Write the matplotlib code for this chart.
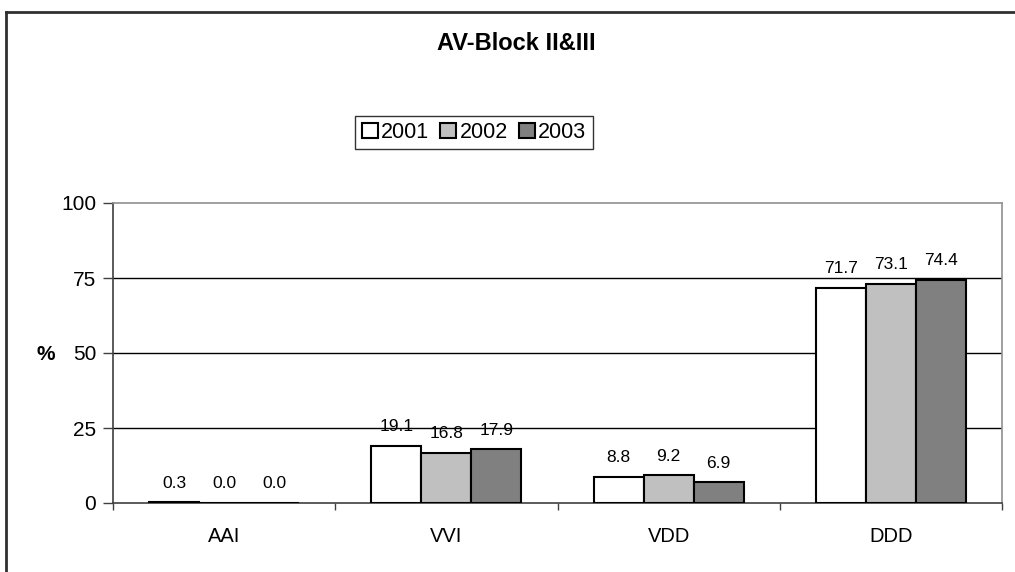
import numpy as np
import matplotlib
matplotlib.use("Agg")
import matplotlib.pyplot as plt
from matplotlib.lines import Line2D

plt.rcParams['font.family'] = ['Liberation Sans', 'DejaVu Sans']

# data
categories = ['AAI', 'VVI', 'VDD', 'DDD']
years = ['2001', '2002', '2003']
v2001 = [0.3, 19.1, 8.8, 71.7]
v2002 = [0.0, 16.8, 9.2, 73.1]
v2003 = [0.0, 17.9, 6.9, 74.4]
yticks = [0, 25, 50, 75, 100]

colors = ['#FFFFFF', '#C0C0C0', '#808080']
series = [v2001, v2002, v2003]

fig = plt.figure(figsize=(10.15, 5.72), dpi=100)
ax = fig.add_axes([113/1015, 1-503/572, 889/1015, 300/572])

x = np.arange(len(categories))
w = 0.225
for i, vals in enumerate(series):
  xs = x + (i-1)*w
  ax.bar(xs, vals, width=w, color=colors[i], edgecolor='black', linewidth=1.5,
         label=years[i], zorder=3)
  for xi, v in zip(xs, vals):
    ax.annotate('%.1f' % v, (xi, v), xytext=(0, 10.5), textcoords='offset points',
                ha='center', va='baseline', fontsize=12.5, zorder=4)

ax.set_xlim(-0.5, len(categories)-0.5)
ax.set_ylim(0, 100)
ax.set_yticks(yticks)
ax.set_yticklabels([str(t) for t in yticks], fontsize=15)
ax.set_xticks(x)
ax.set_xticklabels(categories, fontsize=14.5)
ax.tick_params(axis='x', length=0, pad=17)
ax.set_xticks(np.arange(len(categories)+1)-0.5, minor=True)
ax.tick_params(axis='x', which='minor', length=5, width=1, color='#404040')
ax.tick_params(axis='y', length=7, width=1, color='#404040', pad=5)

for t in yticks[1:-1]:
  ax.axhline(t, color='black', linewidth=1, zorder=1)

ax.spines['left'].set_color('#404040')
ax.spines['bottom'].set_color('#404040')
ax.spines['top'].set_color('#909090')
ax.spines['right'].set_color('#909090')
for s in ax.spines.values():
  s.set_linewidth(1.2)

ax.set_ylabel('%', fontsize=15, fontweight='bold', rotation=0, labelpad=0,
              va='center', ha='center')
ax.yaxis.set_label_coords(-67/889, 148/300)

fig.text(516/1015, 1-44/572, 'AV-Block II&III', ha='center', va='center',
         fontsize=17, fontweight='bold')

leg = fig.legend(loc='center', bbox_to_anchor=(474/1015, 1-132.5/572), ncol=3,
                 fontsize=15.5, frameon=True, fancybox=False, handlelength=0.75,
                 handleheight=0.75, handletextpad=0.15, columnspacing=0.5,
                 borderpad=0.3, borderaxespad=0)
leg.get_frame().set_edgecolor('black')
leg.get_frame().set_linewidth(1)

# outer chart border (only top and left visible in the crop)
fig.add_artist(Line2D([6/1015, 6/1015], [0, 1-12/572], transform=fig.transFigure,
                      color='#303030', linewidth=2))
fig.add_artist(Line2D([6/1015, 1], [1-12/572, 1-12/572], transform=fig.transFigure,
                      color='#303030', linewidth=2))

fig.savefig('out.png', dpi=100)
